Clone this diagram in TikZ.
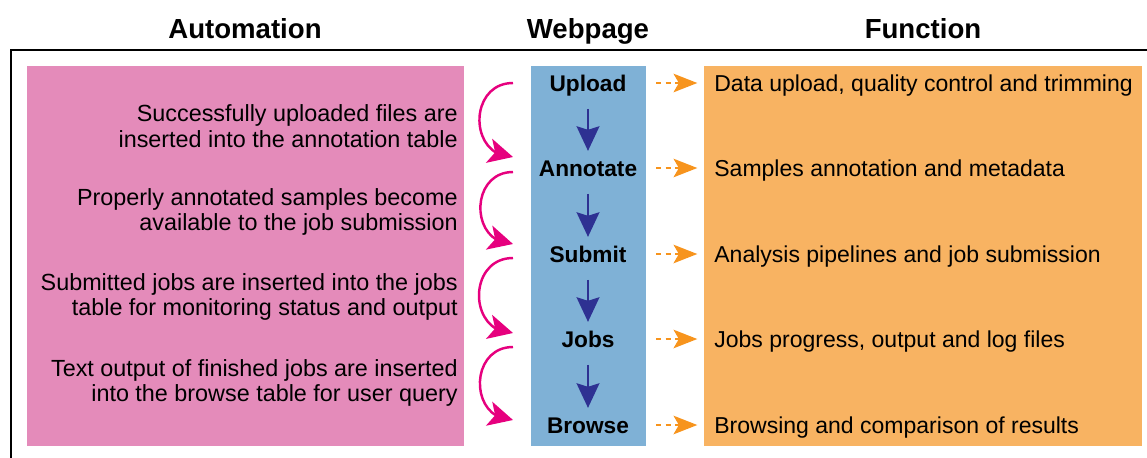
\documentclass[tikz,border=0pt]{standalone}
\usepackage{fontspec}
\setmainfont{Liberation Sans}
\usetikzlibrary{arrows.meta,bending,positioning}

\definecolor{autopink}{HTML}{E48BBA}
\definecolor{pageblue}{HTML}{7FB1D6}
\definecolor{funcorange}{HTML}{F8B362}
\definecolor{curvemag}{HTML}{E6007E}
\definecolor{stepnavy}{HTML}{2E3192}
\definecolor{dashorange}{HTML}{F7941D}

\begin{document}
\begin{tikzpicture}[x=0.02cm,y=-0.02cm,
            heading/.style = {anchor=base, inner sep=0pt,
                font=\fontsize{15.7}{18}\selectfont\bfseries},
            page/.style = {inner sep=0pt, text height=9pt, text depth=2.5pt,
                font=\fontsize{12.9}{15}\selectfont\bfseries},
            automat/.style = {inner sep=0pt, anchor=east, align=right,
                font=\fontsize{13.3}{14.7}\selectfont},
            func/.style = {inner sep=0pt, anchor=west, text height=9pt, text depth=2.5pt,
                font=\fontsize{13.1}{15}\selectfont},
            curve/.style = {curvemag, line width=1.4pt,
                -{Stealth[length=14pt,width=14pt,inset=3.5pt,flex]}},
            next/.style = {stepnavy, line width=1.3pt, shorten <=7pt, shorten >=5.5pt,
                -{Stealth[length=14pt,width=13pt,inset=2pt]}},
            link/.style = {dashorange, line width=1.3pt, dash pattern=on 3pt off 2.5pt,
                shorten >=9.5pt, -{Stealth[length=13.5pt,width=10.5pt,inset=3pt]}}]

        \useasboundingbox (0,0) rectangle (1147,457);

        % Frame
        \draw[line width=1.2pt] (11,470) -- (11,50) -- (1160,50);

        % Column boxes
        \fill[autopink] (27,66) rectangle (464,446);
        \fill[pageblue] (531,66) rectangle (646,446);
        \fill[funcorange] (704,66) rectangle (1142,446);

        % Headings
        \node[heading] (hauto) at (245,38) {Automation};
        \node[heading] (hpage) at (588,38) {Webpage};
        \node[heading] (hfunc) at (923,38) {Function};

        % Webpage steps
        \node[page] (up) at (588,86) {Upload};
        \node[page] (ann) at (588,171) {Annotate};
        \node[page] (sub) at (588,257) {Submit};
        \node[page] (jobs) at (588,342) {Jobs};
        \node[page] (brw) at (588,428) {Browse};

        \draw[next] (up) -- (ann);
        \draw[next] (ann) -- (sub);
        \draw[next] (sub) -- (jobs);
        \draw[next] (jobs) -- (brw);

        % Functions
        \node[func] (fup) at (714,86) {Data upload, quality control and trimming};
        \node[func] (fann) at (714,171) {Samples annotation and metadata};
        \node[func] (fsub) at (714,257) {Analysis pipelines and job submission};
        \node[func] (fjobs) at (714,342) {Jobs progress, output and log files};
        \node[func] (fbrw) at (714,428) {Browsing and comparison of results};

        \coordinate (dup) at (656,83);
        \coordinate (dann) at (656,168);
        \coordinate (dsub) at (656,254);
        \coordinate (djobs) at (656,339);
        \coordinate (dbrw) at (656,425);

        \draw[link] (dup) -- (fup.west |- dup);
        \draw[link] (dann) -- (fann.west |- dann);
        \draw[link] (dsub) -- (fsub.west |- dsub);
        \draw[link] (djobs) -- (fjobs.west |- djobs);
        \draw[link] (dbrw) -- (fbrw.west |- dbrw);

        % Automation
        \node[automat] (aup) at (458,126) {Successfully uploaded files are\\inserted into the annotation table};
        \node[automat] (aann) at (458,212) {Properly annotated samples become\\available to the job submission};
        \node[automat] (asub) at (458,297) {Submitted jobs are inserted into the jobs\\table for monitoring status and output};
        \node[automat] (ajobs) at (458,383) {Text output of finished jobs are inserted\\into the browse table for user query};

        \coordinate (c1s) at (513,83);
        \coordinate (c1e) at (513,157);
        \coordinate (c2s) at (513,172);
        \coordinate (c2e) at (513,244);
        \coordinate (c3s) at (513,258);
        \coordinate (c3e) at (513,333);
        \coordinate (c4s) at (513,347);
        \coordinate (c4e) at (513,420);

        \draw[curve] (c1s) to[out=180,in=180,looseness=1.55] (c1e);
        \draw[curve] (c2s) to[out=180,in=180,looseness=1.55] (c2e);
        \draw[curve] (c3s) to[out=180,in=180,looseness=1.55] (c3e);
        \draw[curve] (c4s) to[out=180,in=180,looseness=1.55] (c4e);

\end{tikzpicture}
\end{document}
